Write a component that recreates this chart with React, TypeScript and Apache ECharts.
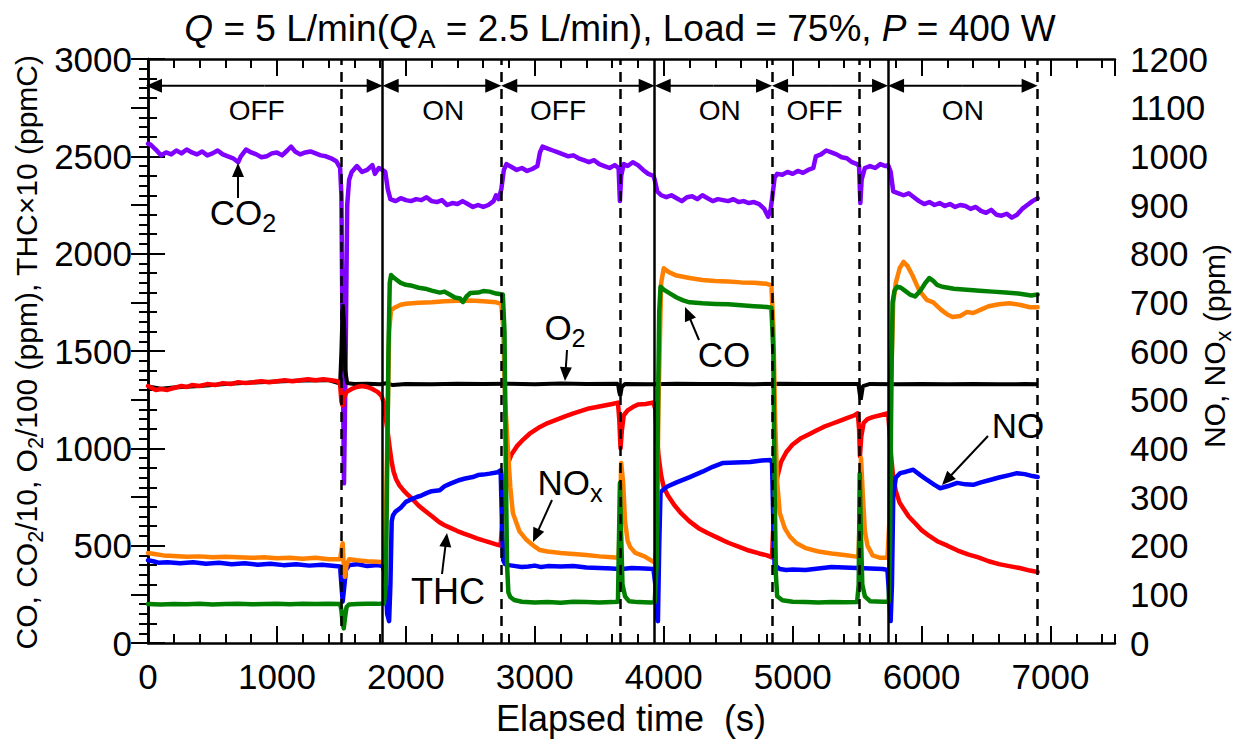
import React, { useEffect, useRef } from "react";
import * as echarts from "echarts";

const FONT = "'Liberation Sans', Arial, Helvetica, sans-serif";

// ---------------- data (time s, value) ----------------
const co2Data: number[][] = [
  [0,2565],[20,2560],[60,2535],[100,2505],[140,2520],[180,2510],[220,2530],[260,2515],[300,2535],[340,2520],[380,2510],[420,2525],[460,2505],[500,2515],[540,2530],[580,2510],[620,2500],[660,2490],[700,2470],[720,2500],[760,2535],[800,2520],[840,2510],[880,2495],[920,2500],[960,2515],[1000,2520],[1040,2505],[1080,2530],[1110,2550],[1140,2525],[1180,2510],[1220,2520],[1260,2525],[1300,2515],[1340,2505],[1380,2500],[1420,2490],[1460,2475],[1490,2440],[1500,2300],[1510,1500],[1520,820],[1530,1300],[1545,2250],[1560,2380],[1580,2420],[1620,2450],[1660,2420],[1700,2430],[1740,2455],[1760,2410],[1790,2440],[1820,2430],
  [1840,2420],[1860,2330],[1880,2280],[1920,2270],[1960,2285],[2000,2275],[2040,2270],[2080,2280],[2120,2275],[2160,2290],[2200,2270],[2240,2265],[2280,2275],[2320,2250],[2360,2260],[2400,2255],[2440,2270],[2480,2255],[2520,2240],[2560,2250],[2600,2240],[2640,2250],[2680,2270],[2700,2300],[2720,2280],[2740,2330],
  [2760,2430],[2780,2460],[2820,2445],[2860,2430],[2900,2440],[2940,2425],[2980,2435],[3020,2450],[3040,2520],[3060,2550],[3100,2540],[3140,2530],[3180,2520],[3220,2510],[3260,2500],[3300,2505],[3340,2490],[3380,2480],[3420,2470],[3460,2480],[3500,2460],[3540,2450],[3580,2440],[3620,2455],[3650,2440],[3660,2270],[3670,2400],[3690,2460],[3720,2450],[3760,2470],[3800,2455],[3840,2430],[3880,2410],[3920,2400],[3930,2380],
  [3950,2320],[3980,2300],[4020,2290],[4060,2300],[4100,2285],[4140,2270],[4180,2290],[4220,2295],[4260,2280],[4300,2300],[4340,2285],[4380,2270],[4420,2280],[4460,2275],[4500,2270],[4540,2280],[4580,2265],[4620,2270],[4660,2260],[4700,2265],[4740,2255],[4780,2230],[4810,2190],[4830,2230],[4840,2280],
  [4860,2390],[4880,2410],[4920,2405],[4960,2420],[5000,2410],[5040,2425],[5080,2415],[5120,2430],[5160,2440],[5180,2500],[5220,2510],[5260,2530],[5300,2520],[5340,2510],[5380,2495],[5420,2490],[5460,2470],[5500,2460],[5515,2450],[5525,2260],[5535,2380],[5560,2440],[5600,2450],[5640,2440],[5680,2460],[5720,2450],[5740,2455],
  [5760,2420],[5780,2320],[5820,2310],[5860,2300],[5900,2310],[5940,2290],[5980,2270],[6020,2255],[6060,2265],[6100,2250],[6140,2260],[6180,2245],[6220,2255],[6260,2240],[6300,2250],[6340,2245],[6380,2230],[6420,2240],[6460,2220],[6500,2210],[6540,2225],[6580,2200],[6620,2195],[6660,2205],[6700,2185],[6740,2200],[6780,2230],[6820,2250],[6860,2270],[6900,2285],
];

const o2Data: number[][] = [
  [0,1318],[100,1306],[200,1312],[400,1320],[600,1330],[800,1338],[1000,1343],[1200,1348],[1400,1350],[1490,1332],[1500,1500],[1510,1740],[1520,1650],[1530,1400],[1545,1335],[1600,1330],[1700,1332],[1800,1329],[1850,1334],[1900,1325],[2000,1331],[2200,1329],[2400,1332],[2600,1330],[2800,1332],[3000,1329],[3200,1333],[3400,1330],[3645,1332],[3655,1290],[3663,1270],[3675,1315],[3700,1331],[3900,1329],[4100,1332],[4300,1330],[4500,1331],[4700,1329],[4900,1332],[5100,1330],[5300,1331],[5510,1330],[5520,1280],[5528,1250],[5545,1320],[5600,1331],[5800,1329],[6000,1331],[6200,1329],[6400,1331],[6600,1329],[6800,1330],[6900,1329],
];

const thcData: number[][] = [
  [0,1320],[30,1310],[60,1300],[100,1305],[150,1300],[200,1310],[260,1320],[300,1315],[340,1325],[400,1320],[460,1330],[520,1325],[580,1335],[640,1330],[700,1340],[760,1335],[820,1340],[880,1345],[940,1340],[1000,1345],[1060,1350],[1120,1345],[1180,1350],[1240,1355],[1300,1350],[1360,1355],[1420,1350],[1470,1345],[1490,1330],[1500,1240],[1510,1220],[1520,1260],[1540,1290],[1580,1305],[1620,1315],[1660,1320],[1700,1315],[1740,1305],[1780,1290],[1810,1270],[1830,1235],
  [1845,1150],[1860,1080],[1875,1000],[1890,930],[1905,880],[1925,840],[1950,810],[1980,785],[2010,765],[2050,740],[2100,705],[2150,678],[2200,652],[2260,620],[2300,605],[2350,590],[2400,575],[2450,562],[2500,550],[2550,538],[2600,527],[2650,517],[2700,507],[2735,500],
  [2745,600],[2755,760],[2770,860],[2790,920],[2820,970],[2860,1010],[2910,1045],[2960,1075],[3040,1110],[3100,1130],[3180,1150],[3240,1165],[3300,1180],[3360,1192],[3420,1205],[3480,1212],[3540,1220],[3600,1228],[3645,1235],[3655,1150],[3665,1000],[3675,1090],[3690,1170],[3720,1195],[3760,1212],[3800,1225],[3860,1228],[3920,1235],
  [3935,1200],[3945,1080],[3960,960],[3980,860],[4000,800],[4030,760],[4080,710],[4130,670],[4200,625],[4270,590],[4340,565],[4420,540],[4500,515],[4580,495],[4660,475],[4740,460],[4800,450],[4840,440],
  [4850,600],[4865,800],[4880,850],[4910,930],[4950,980],[5000,1020],[5060,1050],[5120,1070],[5180,1090],[5240,1110],[5300,1125],[5360,1140],[5420,1155],[5480,1170],[5505,1180],[5515,1100],[5522,960],[5532,1060],[5550,1130],[5580,1150],[5620,1160],[5680,1170],[5740,1180],
  [5750,1100],[5765,950],[5780,850],[5800,780],[5830,720],[5860,690],[5900,650],[5950,615],[6000,580],[6060,550],[6130,520],[6200,500],[6280,475],[6360,455],[6440,440],[6520,420],[6600,405],[6680,395],[6760,385],[6840,372],[6900,365],
];

const noData: number[][] = [
  [0,170],[40,168],[80,165],[150,166],[250,164],[350,166],[450,163],[550,165],[650,162],[750,164],[850,161],[950,163],[1050,160],[1150,162],[1250,159],[1350,161],[1450,158],[1490,157],[1500,120],[1510,85],[1520,110],[1535,150],[1560,160],[1620,162],[1700,158],[1780,160],[1820,158],[1840,140],[1855,60],[1870,45],[1880,120],[1890,250],[1900,262],[1920,270],[1960,278],[2000,290],[2040,295],[2085,300],[2120,303],[2160,308],[2200,312],[2263,314],[2300,322],[2350,328],[2418,335],[2460,338],[2519,341],[2560,345],[2600,346],[2650,348],[2713,351],[2735,355],
  [2745,250],[2755,170],[2770,162],[2800,160],[2850,158],[2900,156],[2950,157],[3000,159],[3050,156],[3100,158],[3200,157],[3300,158],[3400,155],[3500,154],[3600,153],[3650,152],[3665,148],[3680,152],[3750,154],[3850,153],[3920,152],[3935,120],[3945,55],[3955,45],[3965,200],[3975,310],[4024,321],[4100,330],[4202,341],[4300,352],[4380,362],[4460,370],[4560,371],[4670,372],[4760,375],[4826,376],[4840,370],
  [4850,250],[4860,160],[4900,152],[4950,150],[5000,151],[5100,150],[5200,153],[5300,156],[5400,155],[5500,154],[5600,153],[5700,152],[5735,150],[5750,90],[5760,45],[5770,120],[5780,300],[5800,340],[5834,349],[5880,352],[5935,356],[5990,345],[6043,335],[6100,325],[6144,318],[6200,322],[6276,329],[6340,326],[6400,325],[6460,330],[6530,335],[6600,340],[6680,345],[6740,349],[6800,347],[6860,343],[6900,341],
];

const noxData: number[][] = [
  [0,185],[50,183],[120,180],[200,179],[300,177],[400,178],[500,176],[600,177],[700,176],[800,175],[900,176],[1000,174],[1100,175],[1200,173],[1300,175],[1400,172],[1490,172],[1500,190],[1510,205],[1520,150],[1528,136],[1540,160],[1560,172],[1620,170],[1700,168],[1780,167],[1820,166],
  [1840,175],[1855,400],[1870,640],[1885,684],[1920,690],[1960,695],[2000,697],[2100,699],[2200,700],[2300,702],[2400,703],[2500,704],[2600,702],[2700,700],[2740,697],
  [2755,650],[2770,500],[2790,403],[2810,320],[2830,267],[2880,230],[2935,212],[3000,198],[3040,191],[3100,188],[3200,185],[3300,183],[3400,181],[3500,178],[3600,176],[3650,175],[3660,250],[3670,370],[3685,330],[3700,250],[3720,210],[3740,197],[3780,185],[3850,178],[3930,165],
  [3945,200],[3960,500],[3980,740],[4000,770],[4040,762],[4100,755],[4200,750],[4300,746],[4400,744],[4500,743],[4600,741],[4700,740],[4800,738],[4835,735],
  [4850,650],[4865,450],[4880,330],[4900,267],[4940,235],[4980,218],[5030,205],[5100,195],[5200,188],[5300,184],[5400,181],[5480,178],[5510,177],[5520,250],[5530,380],[5545,300],[5560,230],[5580,200],[5620,180],[5680,175],[5735,175],
  [5750,250],[5765,550],[5780,700],[5800,740],[5830,770],[5860,783],[5890,775],[5930,755],[5980,725],[6040,705],[6090,700],[6150,685],[6200,675],[6240,670],[6300,672],[6350,680],[6400,678],[6460,685],[6520,692],[6600,696],[6680,698],[6760,695],[6840,690],[6900,690],
];

const coData: number[][] = [
  [0,200],[100,198],[200,200],[300,199],[400,201],[500,198],[600,200],[700,201],[800,199],[900,200],[1000,202],[1100,199],[1200,201],[1300,200],[1400,202],[1490,200],[1500,170],[1510,100],[1518,75],[1528,130],[1540,185],[1560,198],[1620,200],[1700,202],[1780,201],[1830,203],
  [1845,300],[1855,900],[1865,1500],[1875,1850],[1885,1890],[1900,1880],[1930,1865],[1960,1850],[2000,1840],[2050,1835],[2100,1825],[2150,1820],[2200,1810],[2263,1800],[2300,1805],[2340,1790],[2380,1775],[2420,1770],[2443,1752],[2470,1780],[2500,1798],[2560,1800],[2600,1808],[2650,1805],[2700,1795],[2752,1790],
  [2765,1600],[2775,900],[2785,400],[2795,260],[2810,236],[2840,221],[2900,212],[3000,208],[3100,210],[3200,207],[3300,212],[3400,210],[3500,208],[3600,210],[3645,212],[3652,500],[3660,822],[3668,600],[3680,300],[3700,240],[3730,215],[3800,210],[3900,208],[3930,210],
  [3945,400],[3955,1200],[3965,1700],[3975,1830],[4000,1815],[4050,1795],[4100,1775],[4150,1760],[4200,1750],[4300,1745],[4400,1742],[4500,1740],[4600,1735],[4700,1730],[4800,1726],[4835,1722],
  [4850,1500],[4860,800],[4870,350],[4880,240],[4920,220],[5000,212],[5100,210],[5200,208],[5300,210],[5400,209],[5500,211],[5512,300],[5520,870],[5528,600],[5540,300],[5560,240],[5600,215],[5700,212],[5745,212],
  [5755,500],[5765,1300],[5775,1750],[5790,1810],[5810,1830],[5840,1825],[5870,1810],[5910,1790],[5950,1780],[5990,1810],[6030,1850],[6060,1875],[6090,1860],[6120,1840],[6160,1830],[6250,1820],[6350,1815],[6450,1810],[6550,1805],[6650,1800],[6750,1795],[6850,1785],[6900,1790],
];

// vertical event lines
const eventTimes = [1500, 1820, 2740, 3660, 3930, 4840, 5515, 5740, 6900];
const eventKinds = ["dashed", "solid", "dashed", "dashed", "solid", "dashed", "dashed", "solid", "dashed"];

// ON / OFF phases
const phaseStart = [0, 1820, 2740, 3930, 4840, 5740];
const phaseEnd = [1820, 2740, 3930, 4840, 5740, 6900];
const phaseLabel = ["OFF", "ON", "OFF", "ON", "OFF", "ON"];
const phaseLabelTime = [843, 2290, 3180, 4435, 5170, 6320];
const phaseArrowLevel = 2862;
const phaseLabelLevel = 2733;

type Run = { t: string; italic?: boolean; sub?: boolean };

export default function App() {
  const ref = useRef<HTMLDivElement>(null);

  useEffect(() => {
    document.body.style.margin = "0";
    const chart = echarts.init(ref.current!, null, { renderer: "svg" });

    const axisLine = { show: true, lineStyle: { color: "#000", width: 2.5 } };
    const labelStyle = {
      color: "#000",
      fontFamily: FONT,
      fontSize: 35,
      formatter: (v: number) => String(v),
    };

    const xBase = {
      type: "value" as const,
      min: 0,
      max: 7500,
      gridIndex: 0,
      splitLine: { show: false },
    };

    const line = (name: string, data: number[][], color: string, yAxisIndex: number, extra: any = {}) => ({
      name,
      type: "line",
      data,
      yAxisIndex,
      xAxisIndex: 0,
      showSymbol: false,
      symbol: "none",
      silent: true,
      lineStyle: { color, width: 4.5, join: "round", cap: "round" },
      itemStyle: { color },
      ...extra,
    });

    const option: any = {
      animation: false,
      backgroundColor: "#fff",
      grid: { left: 148, right: 122, top: 59, bottom: 102, containLabel: false },
      xAxis: [
        {
          ...xBase,
          position: "bottom",
          interval: 1000,
          axisLine,
          axisTick: { show: true, inside: true, length: 17, lineStyle: { color: "#000", width: 2 } },
          axisLabel: { ...labelStyle, margin: 16, showMaxLabel: false },
        },
        {
          ...xBase,
          position: "bottom",
          interval: 200,
          axisLine: { show: false },
          axisTick: { show: true, inside: true, length: 9, lineStyle: { color: "#000", width: 2 } },
          axisLabel: { show: false },
        },
        {
          ...xBase,
          position: "top",
          interval: 1000,
          axisLine,
          axisTick: { show: true, inside: true, length: 17, lineStyle: { color: "#000", width: 2 } },
          axisLabel: { show: false },
        },
        {
          ...xBase,
          position: "top",
          interval: 200,
          axisLine: { show: false },
          axisTick: { show: true, inside: true, length: 9, lineStyle: { color: "#000", width: 2 } },
          axisLabel: { show: false },
        },
      ],
      yAxis: [
        {
          type: "value",
          min: 0,
          max: 3000,
          interval: 500,
          position: "left",
          axisLine,
          axisTick: { show: true, inside: true, length: 17, lineStyle: { color: "#000", width: 2 } },
          minorTick: { show: true, splitNumber: 5, length: 9, lineStyle: { color: "#000", width: 2 } },
          axisLabel: { ...labelStyle, margin: 16 },
          splitLine: { show: false },
        },
        {
          type: "value",
          min: 0,
          max: 1200,
          interval: 100,
          position: "right",
          axisLine,
          axisTick: { show: true, inside: true, length: 17, lineStyle: { color: "#000", width: 2 } },
          minorTick: { show: true, splitNumber: 5, length: 9, lineStyle: { color: "#000", width: 2 } },
          axisLabel: { ...labelStyle, margin: 15 },
          splitLine: { show: false },
        },
      ],
      series: [
        line("CO2/10", co2Data, "#8000ff", 0, {
          markLine: {
            silent: true,
            symbol: ["none", "none"],
            label: { show: false },
            animation: false,
            data: eventTimes.map((t, i) => ({
              xAxis: t,
              lineStyle: {
                color: "#000",
                width: 2.5,
                type: eventKinds[i] === "dashed" ? [10, 7] : "solid",
              },
            })),
          },
        }),
        line("O2/100", o2Data, "#000000", 0, { lineStyle: { color: "#000", width: 4 } }),
        line("THC×10", thcData, "#ff0000", 0),
        line("NO", noData, "#0000ff", 1),
        line("NOx", noxData, "#ff8000", 1),
        line("CO", coData, "#008000", 0),
      ],
    };

    chart.setOption(option);

    // ---- annotation graphics ----
    const ctx = document.createElement("canvas").getContext("2d")!;
    const measure = (text: string, size: number, italic?: boolean) => {
      ctx.font = `${italic ? "italic " : ""}${size}px ${FONT}`;
      return ctx.measureText(text).width;
    };
    const SUB = 0.72;
    const runsWidth = (runs: Run[], size: number) =>
      runs.reduce((w, r) => w + measure(r.t, r.sub ? size * SUB : size, r.italic), 0);
    const runElems = (runs: Run[], size: number, x0: number, y: number) => {
      const els: any[] = [];
      let x = x0;
      runs.forEach((r) => {
        const fs = r.sub ? size * SUB : size;
        els.push({
          type: "text",
          x,
          y: r.sub ? y + size * 0.3 : y,
          silent: true,
          style: {
            text: r.t,
            fill: "#000",
            fontSize: fs,
            fontFamily: FONT,
            fontStyle: r.italic ? "italic" : "normal",
            align: "left",
            verticalAlign: "middle",
            textAlign: "left",
            textVerticalAlign: "middle",
          },
        });
        x += measure(r.t, fs, r.italic);
      });
      return els;
    };
    const centered = (runs: Run[], size: number, cx: number, cy: number) =>
      runElems(runs, size, cx - runsWidth(runs, size) / 2, cy);
    const rotated = (runs: Run[], size: number, cx: number, cy: number) => ({
      type: "group",
      x: cx,
      y: cy,
      rotation: Math.PI / 2,
      silent: true,
      children: runElems(runs, size, -runsWidth(runs, size) / 2, 0),
    });
    const arrow = (x1: number, y1: number, x2: number, y2: number, head = 13, half = 6, w = 2) => {
      const dx = x2 - x1, dy = y2 - y1;
      const L = Math.hypot(dx, dy);
      const ux = dx / L, uy = dy / L;
      const bx = x2 - ux * head, by = y2 - uy * head;
      const nx = -uy, ny = ux;
      return [
        { type: "line", silent: true, shape: { x1, y1, x2: bx + ux, y2: by + uy }, style: { stroke: "#000", lineWidth: w } },
        {
          type: "polygon",
          silent: true,
          shape: { points: [[x2, y2], [bx + nx * half, by + ny * half], [bx - nx * half, by - ny * half]] },
          style: { fill: "#000" },
        },
      ];
    };

    const px = (t: number) => chart.convertToPixel({ xAxisIndex: 0 }, t) as number;
    const py = (v: number) => chart.convertToPixel({ yAxisIndex: 0 }, v) as number;

    const els: any[] = [];
    // phase arrows & labels
    const ay = py(phaseArrowLevel);
    const ly = py(phaseLabelLevel);
    phaseStart.forEach((s, i) => {
      const x1 = px(s) - (i === 0 ? 2 : 0);
      const x2 = px(phaseEnd[i]);
      const mid = (x1 + x2) / 2;
      els.push(...arrow(mid, ay, x1, ay, 16, 7));
      els.push(...arrow(mid, ay, x2, ay, 16, 7));
      els.push(...centered([{ t: phaseLabel[i] }], 28, px(phaseLabelTime[i]), ly));
    });

    // title
    els.push(
      ...centered(
        [
          { t: "Q", italic: true },
          { t: " = 5 L/min(" },
          { t: "Q", italic: true },
          { t: "A", sub: true },
          { t: " = 2.5 L/min), Load = 75%, " },
          { t: "P", italic: true },
          { t: " = 400 W" },
        ],
        37,
        620,
        28
      )
    );
    // x axis name
    els.push(...centered([{ t: "Elapsed time\u00a0 (s)" }], 36, 631, 718));
    // y axis names
    els.push(
      rotated(
        [
          { t: "CO, CO" },
          { t: "2", sub: true },
          { t: "/10, O" },
          { t: "2", sub: true },
          { t: "/100 (ppm), THC\u00d710 (ppmC)" },
        ],
        30,
        26,
        352
      )
    );
    els.push(rotated([{ t: "NO, NO" }, { t: "x", sub: true }, { t: " (ppm)" }], 30, 1214, 346));

    // series annotations
    els.push(...centered([{ t: "CO" }, { t: "2", sub: true }], 35, 243, 212));
    els.push(...arrow(238, 198, 238, 163, 14, 6));
    els.push(...centered([{ t: "O" }, { t: "2", sub: true }], 35, 565, 327));
    els.push(...arrow(567, 350, 565, 381, 14, 6));
    els.push(...centered([{ t: "CO" }], 35, 724, 354));
    els.push(...arrow(699, 340, 685, 307, 14, 6));
    els.push(...centered([{ t: "NO" }, { t: "x", sub: true }], 35, 570, 482));
    els.push(...arrow(552, 500, 533, 542, 14, 6));
    els.push(...centered([{ t: "THC" }], 36, 448, 591));
    els.push(...arrow(442, 574, 447, 533, 14, 6));
    els.push(...centered([{ t: "NO" }], 35, 1018, 425));
    els.push(...arrow(988, 436, 942, 485, 14, 6));

    chart.setOption({ graphic: { elements: els.map((e) => ({ ...e, z: 100 })) } });

    return () => chart.dispose();
  }, []);

  return <div ref={ref} style={{ width: 1237, height: 745 }} />;
}
